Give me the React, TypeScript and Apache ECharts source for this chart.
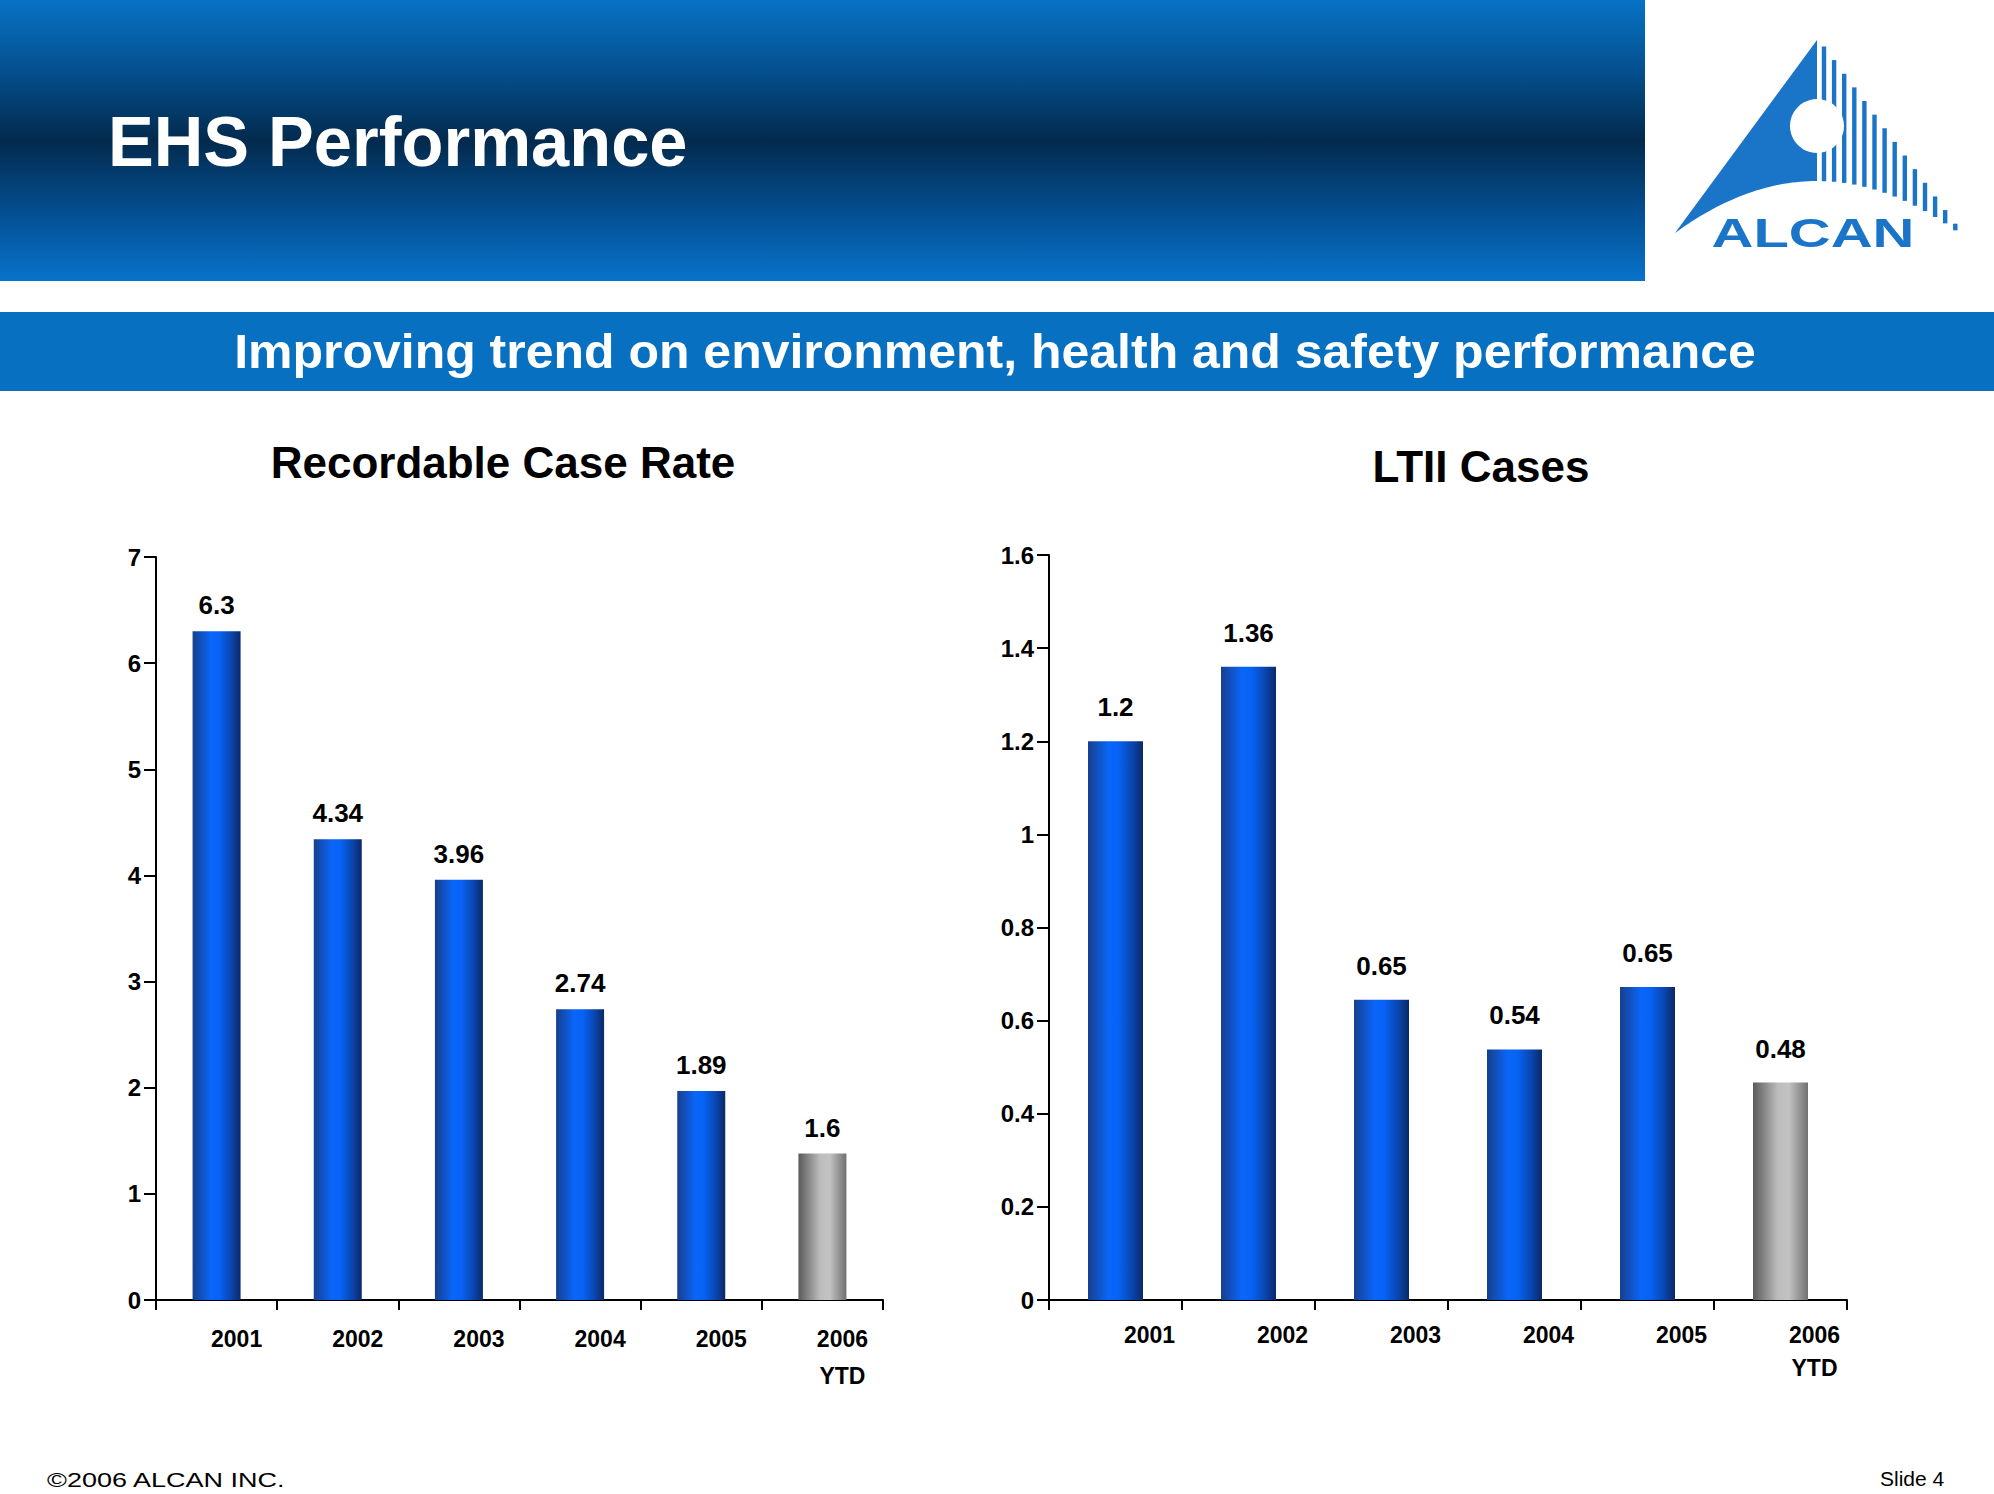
import React, { useEffect, useRef } from 'react';
import * as echarts from 'echarts';

// ---- data ----
const years = ['2001', '2002', '2003', '2004', '2005', '2006\nYTD'];
const rcrValues = [6.3, 4.34, 3.96, 2.74, 1.97, 1.38];
const rcrLabels = ['6.3', '4.34', '3.96', '2.74', '1.89', '1.6'];
const ltiiValues = [1.2, 1.36, 0.645, 0.538, 0.672, 0.467];
const ltiiLabels = ['1.2', '1.36', '0.65', '0.54', '0.65', '0.48'];
const ytdIndex = 5;

const pageTitle = 'EHS Performance';
const subTitle = 'Improving trend on environment, health and safety performance';
const leftTitle = 'Recordable Case Rate';
const rightTitle = 'LTII Cases';
const footerLeft = '\u00A92006 ALCAN INC.';
const footerRight = 'Slide 4';

const FONT = '"Liberation Sans", Arial, Helvetica, sans-serif';
const LOGO_BLUE = '#1a74c8';

function txt(x: number, y: number, text: string, size: number, opts: any = {}) {
  const align = opts.align || 'left';
  return {
    type: 'text',
    x,
    y,
    scaleX: opts.scaleX || 1,
    z: 10,
    style: {
      text,
      fontSize: size,
      fontWeight: opts.weight || 'bold',
      fontFamily: FONT,
      fill: opts.fill || '#000',
      textAlign: align,
      align,
      textVerticalAlign: 'middle',
      verticalAlign: 'middle',
    },
  };
}

function logoElements(): any[] {
  const apexX = 1817;
  const apexY = 40;
  const peakY = 181;
  const k = (233 - 181) / (142 * 142);
  const arcY = (x: number) => peakY + k * (x - apexX) * (x - apexX);
  const solid: number[][] = [[apexX, apexY], [1675, 233]];
  for (let x = 1680; x < apexX; x += 4) solid.push([x, arcY(x)]);
  solid.push([apexX, arcY(apexX)]);
  const els: any[] = [
    { type: 'polygon', z: 5, shape: { points: solid }, style: { fill: LOGO_BLUE } },
  ];
  const slope = 193 / 143;
  for (let i = 0; i < 14; i++) {
    const xc = 1824 + i * 10.1;
    const w = 4.4;
    const top = apexY + (xc - w / 2 - apexX) * slope;
    const bottom = arcY(xc);
    if (bottom - top < 2) continue;
    els.push({
      type: 'rect',
      z: 5,
      shape: { x: xc - w / 2, y: top, width: w, height: bottom - top },
      style: { fill: LOGO_BLUE },
    });
  }
  els.push({ type: 'circle', z: 6, shape: { cx: apexX, cy: 126, r: 27 }, style: { fill: '#fff' } });
  els.push(txt(1813, 233.5, 'ALCAN', 40, { align: 'center', scaleX: 1.45, fill: LOGO_BLUE }));
  return els;
}

function blueGrad() {
  return new echarts.graphic.LinearGradient(0, 0, 1, 0, [
    { offset: 0, color: '#173f8c' },
    { offset: 0.38, color: '#0a66fa' },
    { offset: 0.55, color: '#0763f5' },
    { offset: 0.8, color: '#0a46b0' },
    { offset: 1, color: '#0b2866' },
  ]);
}
function grayGrad() {
  return new echarts.graphic.LinearGradient(0, 0, 1, 0, [
    { offset: 0, color: '#5a5a5a' },
    { offset: 0.45, color: '#bcbcbc' },
    { offset: 0.65, color: '#c3c3c3' },
    { offset: 1, color: '#707070' },
  ]);
}

function barData(values: number[]) {
  return values.map((v, i) => ({
    value: v,
    itemStyle: { color: i === ytdIndex ? grayGrad() : blueGrad() },
  }));
}

const axisLineStyle = { color: '#000', width: 2 };

function xAxisCfg(gridIndex: number, shift: number, lineHeight: number, margin: number) {
  return {
    type: 'category',
    gridIndex,
    data: years,
    axisLine: { show: true, lineStyle: axisLineStyle },
    axisTick: { show: true, length: 10, lineStyle: axisLineStyle },
    axisLabel: {
      interval: 0,
      color: '#000',
      fontFamily: FONT,
      fontWeight: 'bold',
      fontSize: 23,
      lineHeight,
      margin,
      padding: [0, 0, 0, shift * 2],
    },
  };
}

function yAxisCfg(gridIndex: number, max: number, interval: number) {
  return {
    type: 'value',
    gridIndex,
    min: 0,
    max,
    interval,
    splitLine: { show: false },
    axisLine: { show: true, lineStyle: axisLineStyle },
    axisTick: { show: true, length: 12, lineStyle: axisLineStyle },
    axisLabel: {
      color: '#000',
      fontFamily: FONT,
      fontWeight: 'bold',
      fontSize: 24,
      margin: 15,
      padding: [0, 0, 9, 0],
    },
  };
}

function labelCfg(labels: string[], distance: number) {
  return {
    show: true,
    position: 'top',
    distance,
    color: '#000',
    fontFamily: FONT,
    fontWeight: 'bold',
    fontSize: 26,
    formatter: (p: any) => labels[p.dataIndex],
  };
}

export default function App() {
  const ref = useRef<HTMLDivElement>(null);
  useEffect(() => {
    if (!ref.current) return;
    const chart = echarts.init(ref.current, undefined, { renderer: 'svg' });
    const headerGrad = new echarts.graphic.LinearGradient(0, 0, 0, 1, [
      { offset: 0, color: '#0872c6' },
      { offset: 0.25, color: '#04508f' },
      { offset: 0.5, color: '#032a4d' },
      { offset: 0.76, color: '#044f93' },
      { offset: 1, color: '#0873cb' },
    ]);
    chart.setOption({
      animation: false,
      backgroundColor: '#fff',
      grid: [
        { left: 156, top: 557, width: 727, height: 743 },
        { left: 1049, top: 555, width: 798, height: 745 },
      ],
      xAxis: [xAxisCfg(0, 20, 37, 20), xAxisCfg(1, 34, 33, 18)],
      yAxis: [yAxisCfg(0, 7, 1), yAxisCfg(1, 1.6, 0.2)],
      series: [
        {
          type: 'bar',
          xAxisIndex: 0,
          yAxisIndex: 0,
          barWidth: 48,
          data: barData(rcrValues),
          label: labelCfg(rcrLabels, 13),
        },
        {
          type: 'bar',
          xAxisIndex: 1,
          yAxisIndex: 1,
          barWidth: 55,
          data: barData(ltiiValues),
          label: labelCfg(ltiiLabels, 21),
        },
      ],
      graphic: [
        { type: 'rect', z: 1, shape: { x: 0, y: 0, width: 1645, height: 281 }, style: { fill: headerGrad } },
        { type: 'rect', z: 1, shape: { x: 0, y: 312, width: 1994, height: 79 }, style: { fill: '#0870c0' } },
        txt(108, 142, pageTitle, 70, { fill: '#fff', scaleX: 0.98 }),
        txt(995, 350.5, subTitle, 49, { fill: '#fff', align: 'center', scaleX: 1.02 }),
        txt(503, 462, leftTitle, 44, { align: 'center' }),
        txt(1481, 466, rightTitle, 44, { align: 'center' }),
        txt(47, 1480, footerLeft, 20, { weight: 'normal', scaleX: 1.35 }),
        txt(1880, 1478.5, footerRight, 21, { weight: 'normal' }),
        ...logoElements(),
      ],
    });
    return () => chart.dispose();
  }, []);
  return (
    <div
      ref={ref}
      style={{ position: 'absolute', left: 0, top: 0, width: 1994, height: 1494, background: '#fff' }}
    />
  );
}
